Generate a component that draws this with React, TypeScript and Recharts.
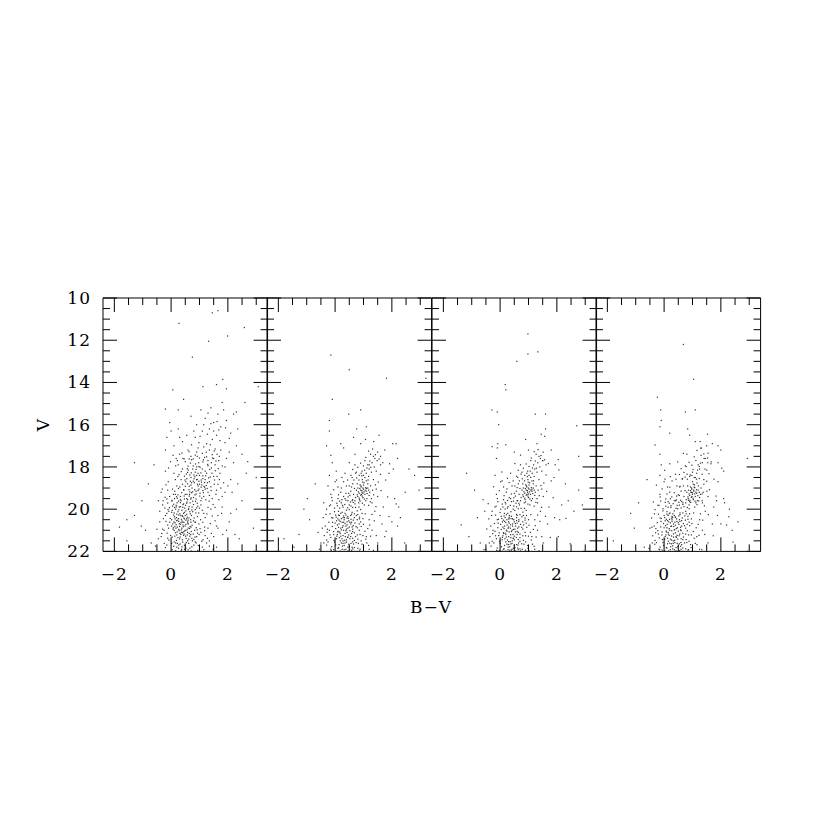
import React from "react";
import { ScatterChart, Scatter, XAxis, YAxis } from "recharts";

// ---------- data (B-V, V) ----------
const panel1: number[][] = [
  [0.12,19.5],[0.35,19.6],[0.58,19.55],[0.21,19.7],[0.44,19.75],[0.67,19.7],[0.05,19.85],[0.29,19.9],[0.51,19.82],[0.74,19.9],
  [0.16,20.0],[0.38,20.05],[0.62,19.98],[0.85,20.02],[-0.08,20.1],[0.24,20.12],[0.47,20.15],[0.31,20.22],[0.55,20.25],[0.09,20.28],
  [0.72,20.3],[0.41,20.35],[0.19,20.4],[0.63,20.42],[0.36,20.48],[0.02,20.5],[0.52,20.52],[0.27,20.58],[0.79,20.55],[0.45,20.62],
  [0.14,20.65],[0.6,20.7],[0.33,20.72],[-0.12,20.75],[0.49,20.8],[0.22,20.85],[0.7,20.85],[0.38,20.9],[0.07,20.95],[0.56,20.98],
  [0.28,21.02],[0.83,21.0],[0.43,21.08],[0.15,21.12],[0.64,21.15],[0.34,21.2],[0.51,21.28],[-0.02,21.25],[0.24,21.35],[0.73,21.38],
  [0.4,21.45],[0.58,21.5],[0.11,21.55],[0.88,21.6],[0.32,21.65],[0.47,21.72],[0.2,21.8],[0.66,21.85],[0.37,21.9],[0.04,21.92],
  [0.26,19.62],[0.48,19.95],[0.11,20.18],[0.66,20.12],[0.39,20.3],[0.26,20.45],[0.58,20.6],[0.42,20.75],[0.17,20.9],[0.5,21.0],
  [0.31,21.15],[0.69,21.2],[0.19,21.48],[0.54,21.58],[0.93,20.35],[0.98,20.7],[0.9,21.3],[-0.2,20.3],[-0.25,21.0],[-0.15,21.7],
  [1.05,21.1],[1.1,21.8],[0.8,21.7],
  [0.95,18.9],[0.82,18.75],[1.08,18.85],[0.74,19.0],[1.2,19.05],[0.88,19.15],[1.02,19.25],[0.65,19.3],[1.15,19.4],[0.79,19.45],
  [1.3,19.2],[0.92,18.6],[1.12,18.55],[0.7,18.5],[1.35,18.7],[0.58,18.8],[1.0,18.4],[1.25,18.3],[0.85,18.25],[0.6,18.15],
  [1.1,18.1],[1.42,18.05],[0.78,17.95],[0.97,17.8],[1.3,17.7],[0.5,17.75],[1.18,17.55],[0.7,17.5],[1.55,17.9],[1.5,18.45],
  [0.45,19.1],[0.55,19.5],[1.45,19.5],[1.6,19.1],[1.05,19.6],[0.35,18.6],[0.4,18.1],[0.25,17.9],[1.7,18.6],[1.62,17.4],
  [0.9,17.3],[1.35,17.2],[0.2,18.9],[0.15,19.3],[1.8,19.4],[0.98,19.05],[0.84,19.32],[1.07,18.72],[1.24,18.88],[0.68,18.68],
  [0.9,18.4],[1.2,18.6],
  [0.3,17.4],[0.1,18.3],[-0.1,18.7],[-0.05,19.4],[-0.3,19.8],[1.9,18.0],[1.75,17.2],[2.0,18.9],[1.65,20.3],[1.4,20.0],
  [1.2,20.4],[1.3,20.9],[1.5,21.3],[1.25,21.6],[1.6,21.8],[-0.4,20.6],[-0.45,21.4],[-0.35,19.2],[1.15,20.2],[1.05,19.8],
  [0.95,17.1],[1.25,16.9],[1.45,16.7],[0.85,16.6],[1.6,16.5],[1.1,16.3],[1.35,16.2],[1.75,16.1],[0.9,16.0],[1.5,15.9],
  [1.95,15.8],[1.2,15.7],[2.1,16.4],[1.65,15.5],[1.85,15.3],[2.2,15.5],[0.4,16.8],[0.1,17.0],[-0.15,16.6],[0.25,16.2],
  [-0.05,15.9],[0.6,17.2],[2.3,17.0],[2.05,17.3],[0.7,15.6],[1.4,15.2],[1.8,14.95],[2.6,14.95],[2.3,15.4],[-0.2,15.26],
  [0.25,15.3],[0.44,14.8],[0.06,14.35],[1.12,14.2],[1.6,14.1],[1.95,14.3],[3.07,14.2],[1.82,13.85],[0.75,12.8],[1.32,12.05],
  [1.99,11.8],[2.58,11.4],[0.28,11.2],[1.45,10.7],[1.65,10.6],
  [-1.29,17.8],[-0.8,18.8],[-1.03,19.6],[-1.29,20.3],[-1.82,20.85],[-1.56,20.5],[-1.05,20.8],[-1.56,21.5],[-0.7,21.6],[2.7,17.75],
  [3.0,18.5],[2.65,18.3],[2.3,20.0],[2.15,19.2],[1.8,19.9],[2.05,20.6],[1.65,20.9],[2.5,19.6],[2.9,20.9],[2.4,21.4],
  [-0.6,17.9],[-0.9,21.0],
];
const panel1b: number[][] = [
  [-0.21,19.44],[0.03,19.58],[0.19,19.41],[0.47,19.52],[0.71,19.47],[0.86,19.63],[-0.12,19.71],[0.09,19.77],[0.33,19.69],[0.56,19.66],
  [0.79,19.78],[0.94,19.86],[-0.06,19.93],[0.18,19.89],[0.41,19.91],[0.63,19.88],[0.27,20.03],[0.52,20.08],[0.76,20.12],[0.02,20.15],
  [0.2,20.24],[0.44,20.2],[0.68,20.22],[0.87,20.18],[-0.15,20.2],[0.12,20.36],[0.34,20.31],[0.57,20.38],[0.81,20.42],[-0.03,20.44],
  [0.23,20.52],[0.47,20.46],[0.69,20.5],[0.38,20.56],[0.1,20.61],[0.59,20.66],[0.84,20.62],[-0.18,20.58],[0.29,20.69],[0.52,20.72],
  [0.74,20.76],[0.02,20.8],[0.18,20.74],[0.43,20.83],[0.65,20.91],[0.89,20.88],[-0.09,20.9],[0.27,20.96],[0.48,21.04],[0.71,21.06],
  [0.11,21.01],[0.36,21.1],[0.58,21.1],[0.93,21.14],[-0.14,21.14],[0.2,21.22],[0.44,21.24],[0.66,21.28],[0.04,21.32],[0.3,21.41],
  [0.53,21.38],[0.8,21.44],[-0.08,21.47],[0.16,21.6],[0.41,21.56],[0.62,21.62],[0.85,21.55],[0.27,21.7],[0.52,21.84],[0.09,21.76],
  [0.73,21.78],[-0.2,21.82],[0.36,21.97],[0.6,21.93],[0.16,21.97],[0.94,21.95],[-0.3,20.95],[-0.35,21.3],[-0.28,19.6],[1.0,19.95],
  [1.04,20.5],[1.12,21.45],[0.99,21.2],[0.46,19.38],[0.24,19.32],[0.64,19.38],[0.3,20.82],[0.55,20.45],[0.35,20.64],[0.46,21.18],
  [0.14,20.46],[0.61,20.02],[0.06,20.7],[0.75,21.5],[0.21,21.08],[0.5,21.65],[0.38,21.78],
  [0.88,19.52],[1.01,19.38],[1.14,19.22],[0.76,19.18],[0.63,19.08],[1.27,19.02],[1.4,18.94],[0.93,18.82],[1.18,18.74],[0.7,18.86],
  [0.52,18.7],[0.81,18.56],[1.06,18.62],[1.32,18.52],[1.53,18.62],[0.66,18.38],[0.95,18.3],[1.2,18.2],[1.44,18.3],[0.47,18.44],
  [0.76,18.1],[1.02,18.02],[1.3,17.94],[1.56,18.18],[0.6,17.96],[0.86,17.86],[1.12,17.76],[1.42,17.8],[0.42,17.6],[0.72,17.66],
  [1.0,17.58],[1.25,17.52],[1.5,17.6],[0.85,17.44],[1.1,17.36],[1.45,17.42],[0.55,18.56],[0.33,19.4],[1.65,18.82],[1.58,19.3],
  [1.35,19.35],[1.22,19.55],[0.95,19.12],[0.72,19.22],[1.06,18.96],[0.84,18.46],[1.12,18.42],[0.58,18.26],[1.36,18.12],[0.9,18.0],
  [0.68,17.82],[1.18,18.96],[0.98,18.68],[1.28,18.75],[0.78,18.68],[0.5,19.3],[0.4,18.82],[0.28,18.36],[1.72,18.3],[1.85,18.75],
  [1.48,19.78],[1.3,19.92],[1.1,20.05],[1.55,20.55],[1.38,20.68],[1.18,20.85],[1.42,21.15],[1.2,21.25],[1.35,21.75],[0.15,18.6],
  [0.05,19.05],[-0.12,19.1],[-0.2,18.2],[0.22,17.7],[1.68,17.7],[1.9,19.2],[2.1,18.6],[1.78,20.2],[1.95,21.0],
  [0.98,16.85],[1.15,17.05],[1.38,16.95],[1.55,17.15],[1.72,16.75],[1.9,16.85],[0.72,16.95],[1.02,16.55],[1.28,16.45],[1.5,16.3],
  [1.68,16.25],[1.92,16.15],[2.05,16.65],[0.8,16.3],[1.15,16.0],[1.4,15.95],[1.62,15.85],[0.55,16.5],[0.3,16.6],[-0.2,17.2],
  [0.0,16.3],[1.3,15.45],[1.05,15.3],[2.35,16.2],[2.5,17.4],
];
const panel1c: number[][] = [
  [-0.31,19.05],[-0.22,19.95],[-0.27,20.45],[-0.33,21.15],[-0.24,21.62],[-0.18,18.85],[-0.09,18.05],[-0.02,17.75],[0.07,17.45],[0.16,17.95],
  [0.24,18.45],[0.31,18.95],[0.13,19.15],[0.03,19.62],[-0.11,20.02],[0.22,19.48],[0.37,19.22],[0.49,18.62],[0.57,18.08],[0.46,17.62],
  [0.63,17.28],[0.78,17.62],[0.88,18.12],[0.71,18.28],[0.64,18.92],[0.83,19.08],[0.76,19.62],[0.92,19.72],[1.08,19.48],[1.16,18.92],
  [1.22,18.42],[1.38,18.48],[1.29,17.88],[1.46,17.58],[1.58,17.72],[1.66,18.08],[1.52,18.82],[1.41,19.12],[1.34,19.62],[1.55,19.92],
  [1.26,20.22],[1.12,20.62],[1.02,20.92],[1.18,21.02],[1.08,21.52],[1.28,21.38],[0.96,21.72],[1.15,21.92],[0.71,21.98],[0.48,21.9],
  [0.26,21.85],[0.02,21.62],[-0.12,21.38],[0.13,21.28],[0.32,21.32],[0.57,21.22],[0.78,21.18],[0.92,20.98],[0.67,20.82],[0.41,20.62],
  [0.19,20.55],[-0.05,20.62],[0.08,20.88],[0.36,20.98],[0.6,20.9],[0.86,20.62],[0.97,20.18],[0.73,20.04],[0.5,20.3],[0.27,20.28],
  [0.04,20.06],[0.18,19.82],[0.42,19.78],[0.69,19.52],[0.56,19.3],[0.33,19.55],[0.08,19.3],[0.26,19.02],[0.5,18.92],[0.72,18.75],
  [0.9,18.6],[1.05,18.28],[0.98,17.98],[1.14,17.66],[0.92,17.5],[0.64,17.62],[0.38,17.34],[0.18,17.6],[1.24,17.3],[1.52,17.24],
  [1.7,17.5],[1.8,17.95],[1.62,18.45],[1.75,19.0],[1.68,19.55],[1.45,20.32],[1.6,20.8],[1.35,21.5],[1.48,21.9],[1.82,21.2],
  [0.44,19.08],[0.66,19.18],[0.88,19.28],[1.0,18.82],[0.8,18.38],[0.54,18.34],[0.36,18.22],[1.12,19.12],[0.9,19.94],[0.6,20.52],
  [0.4,21.12],[0.22,21.62],[0.62,21.42],[0.84,21.32],[0.13,20.82],[0.45,20.42],[0.7,20.62],[0.33,19.88],[0.55,19.72],[0.12,19.92],
  [-0.15,19.52],[-0.4,20.1],[-0.5,20.95],[-0.55,21.75],[-0.45,19.6],[2.2,17.8],[2.35,18.8],[2.1,20.2],[2.25,21.2],[1.95,17.6],
];

const panel2: number[][] = [
  [0.32,20.5],[0.15,20.3],[0.45,20.35],[0.25,20.62],[0.55,20.7],[0.05,20.55],[0.38,20.8],[0.2,20.9],[0.62,20.95],[0.1,21.05],
  [0.42,21.1],[0.28,21.25],[0.72,21.3],[-0.05,21.2],[0.52,21.4],[0.18,21.5],[0.35,21.6],[0.65,21.65],[0.02,21.7],[0.45,21.8],
  [0.25,21.9],[0.8,21.85],[-0.15,21.9],[0.58,21.95],[0.12,20.1],[0.4,20.05],[0.28,19.9],[0.6,20.15],[-0.02,19.95],[0.5,19.8],
  [0.22,19.7],[0.7,19.75],[0.35,20.2],[0.48,20.55],[0.08,20.75],[0.3,21.0],[0.58,21.15],[0.15,21.35],[0.4,21.45],[0.78,20.5],
  [0.85,21.0],[-0.12,20.4],[-0.2,21.0],[0.92,21.5],[-0.25,21.55],[0.68,20.4],[0.33,20.4],[0.22,20.45],[0.42,20.6],[0.14,20.7],
  [0.5,20.85],[0.36,21.3],[0.26,21.75],[0.7,22.0],[0.05,22.0],[1.0,21.8],[0.95,20.2],[-0.3,20.0],[0.62,19.55],[0.1,19.5],
  [0.3,19.4],[-0.1,19.6],[0.45,21.98],[0.18,21.15],[0.55,20.3],[0.25,20.15],[0.4,20.95],[0.62,21.55],[0.05,21.4],[0.85,20.7],
  [0.9,19.1],[0.95,19.2],[1.0,19.05],[0.85,19.25],[1.05,19.3],[0.92,18.95],[1.1,19.15],[0.8,19.4],[0.98,19.45],[1.15,19.0],
  [0.88,18.85],[1.02,18.75],[0.75,19.1],[1.2,19.35],[0.93,19.3],[0.86,19.55],[1.08,19.6],[0.7,19.6],[1.25,18.9],[0.96,18.6],
  [0.78,18.8],[1.12,19.5],[0.83,19.7],[1.03,19.8],[0.65,19.3],
  [1.05,18.5],[1.1,18.3],[0.95,18.2],[1.2,18.1],[1.15,17.9],[1.3,17.8],[1.05,17.7],[1.4,17.6],[1.25,17.4],[1.5,17.3],
  [0.85,18.4],[1.35,18.6],[0.6,18.5],[0.5,18.9],[1.45,18.2],[1.6,17.9],[0.7,17.9],[0.35,18.3],
  [0.2,19.2],[-0.15,19.3],[0.4,18.9],[1.3,19.7],[1.5,19.4],[1.4,20.1],[1.2,20.5],[1.3,21.0],[1.5,21.6],[1.1,21.3],
  [-0.35,20.8],[-0.4,21.6],[0.0,18.7],[-0.2,18.4],[1.7,19.9],[1.65,20.7],[1.2,21.9],[0.55,19.15],[0.1,18.95],
  [-0.15,12.7],[0.5,13.4],[1.81,13.8],[-0.1,14.8],[0.9,15.3],[0.48,15.5],[-0.2,15.8],[-0.2,16.3],[0.76,16.2],[0.65,16.6],
  [1.07,16.7],[1.36,16.8],[2.03,16.9],[2.15,16.9],[-0.15,17.45],[1.2,17.9],[1.6,17.5],[0.3,17.1],[-0.1,17.8],[0.9,16.9],
  [1.75,17.2],[2.2,17.6],[1.1,16.1],[0.2,16.9],[3.2,13.8],
  [2.8,18.4],[2.96,19.1],[2.47,19.2],[2.24,19.9],[2.0,20.6],[2.2,20.8],[1.8,21.05],[-0.98,19.5],[-0.9,20.5],[-1.27,21.2],
  [-1.8,21.4],[-1.45,21.8],[-0.5,21.6],[2.6,18.1],[1.9,18.3],[2.1,19.5],[-0.7,18.8],[-1.1,20.0],[-0.6,21.1],
];
const panel2b: number[][] = [
  [-0.18,20.22],[0.02,20.28],[0.2,20.2],[0.38,20.28],[0.58,20.24],[0.75,20.3],[-0.08,20.42],[0.1,20.46],[0.28,20.4],[0.46,20.44],
  [0.64,20.52],[0.86,20.46],[-0.22,20.62],[0.0,20.66],[0.18,20.58],[0.35,20.68],[0.52,20.62],[0.7,20.66],[0.9,20.6],[-0.1,20.82],
  [0.12,20.86],[0.28,20.78],[0.45,20.9],[0.6,20.84],[0.78,20.88],[-0.28,21.1],[-0.05,21.06],[0.16,21.08],[0.35,21.15],[0.52,21.02],
  [0.68,21.12],[0.88,21.2],[-0.15,21.34],[0.06,21.28],[0.24,21.4],[0.45,21.32],[0.62,21.38],[0.8,21.42],[-0.3,21.46],[-0.02,21.56],
  [0.22,21.6],[0.4,21.56],[0.56,21.62],[0.74,21.58],[0.95,21.66],[-0.12,21.78],[0.12,21.82],[0.32,21.72],[0.5,21.76],[0.68,21.82],
  [0.88,21.9],[0.18,21.98],[0.38,21.9],[0.62,21.88],[-0.05,21.92],[0.3,20.32],[0.42,20.74],[0.22,20.98],[0.34,21.48],[0.14,20.52],
  [0.56,20.48],[0.08,21.2],[0.48,21.22],[0.28,21.62],[0.64,20.78],[0.04,20.38],[0.26,19.82],[0.44,19.94],[0.08,19.84],[0.62,19.92],
  [0.16,19.62],[0.38,19.58],[0.78,20.08],[-0.16,19.8],[0.54,19.66],[0.84,19.9],[0.98,20.45],[1.05,21.05],[1.12,21.6],[1.0,22.0],
  [-0.38,21.25],[-0.42,20.4],
  [0.87,19.02],[0.94,19.12],[1.02,19.18],[0.9,19.34],[0.98,19.0],[1.06,19.1],[0.82,19.18],[1.13,19.26],[0.96,19.38],[0.78,19.32],
  [1.18,19.1],[0.91,18.9],[1.0,18.86],[1.08,18.98],[0.85,19.48],[1.03,19.52],[0.72,19.45],[1.22,19.2],[1.15,18.8],[0.8,19.0],
  [1.32,19.1],[0.68,19.02],[0.97,18.72],[1.1,18.66],[1.0,18.4],[1.18,18.45],[0.92,18.3],[1.28,18.25],[1.12,18.05],[1.38,18.0],
  [1.22,17.72],[1.48,17.7],[1.35,17.5],[0.75,18.25],[0.62,18.8],[1.45,19.05],[1.28,19.5],[0.6,19.6],[0.48,19.25],[0.35,19.5],
];
const panel2c: number[][] = [
  [-0.32,20.25],[-0.27,20.95],[-0.3,21.7],[-0.2,19.85],[-0.12,19.45],[-0.05,19.08],[0.05,18.62],[0.12,19.32],[0.22,19.0],[0.3,18.7],
  [0.38,19.25],[0.45,19.6],[0.52,19.35],[0.58,18.95],[0.66,18.62],[0.72,18.3],[0.62,18.12],[0.8,18.02],[0.9,17.82],[1.0,17.95],
  [1.08,17.55],[1.18,17.25],[1.32,17.15],[1.42,17.42],[1.55,17.62],[1.68,17.8],[1.6,18.35],[1.52,18.72],[1.42,18.85],[1.36,19.32],
  [1.44,19.88],[1.3,20.25],[1.22,20.75],[1.38,20.55],[1.15,20.92],[1.25,21.28],[1.08,21.42],[1.18,21.72],[1.35,21.95],[0.98,21.25],
  [0.92,20.82],[0.96,19.72],[0.9,20.02],[0.8,20.26],[0.74,20.82],[0.82,21.62],[0.68,21.48],[0.55,21.3],[0.48,21.66],[0.32,21.92],
  [0.14,21.68],[-0.04,21.48],[-0.18,21.22],[-0.09,20.62],[0.02,20.92],[0.2,21.28],[0.38,21.02],[0.58,20.62],[0.68,20.22],[0.5,20.02],
  [0.3,20.62],[0.12,20.28],[-0.02,20.12],[0.16,19.95],[0.34,19.78],[0.56,19.85],[0.72,19.92],[0.64,19.68],[0.46,19.42],[0.24,19.55],
  [0.06,19.72],[0.88,19.62],[0.98,19.25],[1.1,19.02],[1.24,19.65],[1.18,19.82],[1.06,20.22],[1.0,20.72],[0.86,20.38],[0.42,20.42],
  [0.26,20.86],[0.1,21.08],[0.62,21.06],[0.78,21.22],[0.44,21.34],[0.28,21.5],[0.6,21.8],[0.86,21.98],[0.1,21.86],[-0.14,21.96],
  [1.62,19.12],[1.78,18.62],[1.85,19.42],[1.92,17.85],[2.05,18.1],[1.58,20.3],[1.75,21.3],[1.9,20.35],[2.15,19.75],[1.45,21.25],
  [0.84,18.62],[0.94,18.42],[1.04,18.16],[1.16,18.62],[1.26,18.02],[0.76,18.52],[0.56,18.4],[0.44,18.62],[0.24,18.5],[0.04,18.2],
  [-0.25,18.9],[-0.4,19.7],[-0.45,20.9],[-0.55,21.9],[1.55,16.5],[0.7,17.4],[0.5,17.8],[-0.3,17.0],[2.3,20.4],[2.45,21.6],
];

const panel3: number[][] = [
  [0.3,20.6],[0.18,20.4],[0.42,20.45],[0.25,20.75],[0.55,20.8],[0.08,20.6],[0.36,20.9],[0.22,21.0],[0.6,21.05],[0.12,21.15],
  [0.45,21.2],[0.3,21.3],[0.7,21.35],[-0.05,21.25],[0.5,21.45],[0.2,21.55],[0.38,21.65],[0.63,21.7],[0.05,21.78],[0.47,21.85],
  [0.28,21.92],[0.78,21.9],[-0.12,21.95],[0.55,21.98],[0.15,20.2],[0.38,20.12],[0.26,19.95],[0.58,20.25],[0.02,20.0],[0.48,19.85],
  [0.2,19.75],[0.68,19.8],[0.33,20.3],[0.5,20.6],[0.1,20.85],[0.32,21.08],[0.6,21.2],[0.17,21.4],[0.43,21.5],[0.8,20.6],
  [0.88,21.1],[-0.1,20.5],[-0.18,21.05],[0.9,21.55],[-0.22,21.6],[0.66,20.5],[0.35,20.45],[0.24,20.5],[0.44,20.7],[0.16,20.8],
  [0.52,20.95],[0.38,21.35],[0.28,21.8],[0.72,21.98],[0.08,21.99],[0.98,21.85],[0.93,20.3],[-0.28,20.1],[0.6,19.6],[0.12,19.55],
  [0.32,19.45],[-0.08,19.65],[0.42,21.9],[0.2,21.2],[0.58,20.4],[0.27,20.2],[0.42,21.0],[0.65,21.6],[0.07,21.45],[0.83,20.75],
  [0.92,19.1],[0.97,19.2],[1.02,19.05],[0.87,19.25],[1.07,19.3],[0.94,18.95],[1.12,19.15],[0.82,19.4],[1.0,19.45],[1.17,19.0],
  [0.9,18.85],[1.04,18.75],[0.77,19.1],[1.22,19.35],[0.95,19.3],[0.88,19.55],[1.1,19.6],[0.72,19.6],[1.27,18.9],[0.98,18.6],
  [0.8,18.8],[1.14,19.5],[0.85,19.7],[1.05,19.8],[0.67,19.3],
  [1.08,18.5],[1.13,18.3],[0.97,18.2],[1.22,18.1],[1.18,17.9],[1.33,17.8],[1.08,17.7],[1.42,17.6],[1.27,17.4],[1.52,17.3],
  [0.87,18.4],[1.37,18.6],[0.62,18.5],[0.52,18.9],[1.47,18.2],[1.62,17.9],[0.72,17.9],[0.37,18.3],
  [0.22,19.2],[-0.13,19.3],[0.42,18.9],[1.32,19.7],[1.52,19.4],[1.42,20.1],[1.22,20.5],[1.32,21.0],[1.52,21.6],[1.12,21.3],
  [-0.33,20.8],[-0.38,21.6],[0.02,18.7],[-0.18,18.4],[1.72,19.9],[1.67,20.7],[1.22,21.9],[0.57,19.15],[0.12,18.95],
  [0.98,11.7],[0.98,12.65],[1.33,12.55],[0.59,13.0],[0.18,14.1],[0.2,14.35],[-0.29,15.3],[-0.1,15.4],[-0.05,16.0],[1.24,15.5],
  [1.6,15.5],[1.6,16.2],[1.45,16.45],[2.7,16.05],[-0.08,16.9],[0.9,16.7],[1.3,16.9],[1.8,17.2],[1.5,17.7],[-0.13,17.6],
  [2.05,17.65],[0.5,17.3],[1.0,17.2],[-0.1,17.1],[0.2,16.95],
  [2.77,17.5],[2.77,19.1],[2.9,19.8],[2.3,18.8],[2.6,20.1],[2.1,20.5],[2.05,21.3],[-1.18,18.3],[-0.6,19.55],[-0.54,20.1],
  [-0.8,20.4],[-1.37,20.75],[-1.1,21.3],[-0.7,21.6],[-0.5,21.9],[1.9,18.5],[2.4,19.6],[-0.9,19.1],
];
const panel3b: number[][] = [
  [-0.16,20.28],[0.04,20.34],[0.22,20.26],[0.4,20.34],[0.6,20.3],[0.77,20.36],[-0.06,20.48],[0.12,20.52],[0.3,20.46],[0.48,20.5],
  [0.66,20.58],[0.88,20.52],[-0.2,20.68],[0.02,20.72],[0.2,20.64],[0.37,20.74],[0.54,20.68],[0.72,20.72],[0.92,20.66],[-0.08,20.88],
  [0.14,20.92],[0.3,20.84],[0.47,20.96],[0.62,20.9],[0.8,20.94],[-0.26,21.16],[-0.03,21.12],[0.18,21.14],[0.37,21.21],[0.54,21.08],
  [0.7,21.18],[0.9,21.26],[-0.13,21.4],[0.08,21.34],[0.26,21.46],[0.47,21.38],[0.64,21.44],[0.82,21.48],[-0.28,21.52],[0.0,21.62],
  [0.24,21.66],[0.42,21.62],[0.58,21.68],[0.76,21.64],[0.97,21.72],[-0.1,21.84],[0.14,21.88],[0.34,21.78],[0.52,21.82],[0.7,21.88],
  [0.9,21.94],[0.2,21.99],[0.4,21.94],[0.64,21.92],[-0.03,21.96],[0.32,20.38],[0.44,20.8],[0.24,21.04],[0.36,21.54],[0.16,20.58],
  [0.58,20.54],[0.1,21.26],[0.5,21.28],[0.3,21.68],[0.66,20.84],[0.06,20.44],[0.28,19.88],[0.46,20.0],[0.1,19.9],[0.64,19.98],
  [0.18,19.68],[0.4,19.64],[0.8,20.14],[-0.14,19.86],[0.56,19.72],[0.86,19.96],[1.0,20.5],[1.07,21.1],[1.14,21.66],[1.02,21.98],
  [-0.36,21.3],[-0.4,20.46],
  [0.89,19.02],[0.96,19.12],[1.04,19.18],[0.92,19.34],[1.0,19.0],[1.08,19.1],[0.84,19.18],[1.15,19.26],[0.98,19.38],[0.8,19.32],
  [1.2,19.1],[0.93,18.9],[1.02,18.86],[1.1,18.98],[0.87,19.48],[1.05,19.52],[0.74,19.45],[1.24,19.2],[1.17,18.8],[0.82,19.0],
  [1.34,19.1],[0.7,19.02],[0.99,18.72],[1.12,18.66],[1.02,18.4],[1.2,18.45],[0.94,18.3],[1.3,18.25],[1.14,18.05],[1.4,18.0],
  [1.24,17.72],[1.5,17.7],[1.37,17.5],[0.77,18.25],[0.64,18.8],[1.47,19.05],[1.3,19.5],[0.62,19.6],[0.5,19.25],[0.37,19.5],
];
const panel3c: number[][] = [
  [-0.3,20.3],[-0.25,21.0],[-0.32,21.75],[-0.18,19.9],[-0.1,19.5],[-0.03,19.12],[0.07,18.66],[0.14,19.36],[0.24,19.04],[0.32,18.74],
  [0.4,19.28],[0.47,19.62],[0.54,19.38],[0.6,18.98],[0.68,18.66],[0.74,18.34],[0.64,18.16],[0.82,18.06],[0.92,17.86],[1.02,17.98],
  [1.1,17.58],[1.2,17.28],[1.34,17.18],[1.44,17.46],[1.57,17.66],[1.7,17.84],[1.62,18.38],[1.54,18.76],[1.44,18.88],[1.38,19.36],
  [1.46,19.92],[1.32,20.28],[1.24,20.78],[1.4,20.58],[1.17,20.96],[1.27,21.32],[1.1,21.46],[1.2,21.76],[1.37,21.97],[1.0,21.28],
  [0.94,20.86],[0.98,19.76],[0.92,20.06],[0.82,20.3],[0.76,20.86],[0.84,21.66],[0.7,21.52],[0.57,21.34],[0.5,21.7],[0.34,21.95],
  [0.16,21.72],[-0.02,21.52],[-0.16,21.26],[-0.07,20.66],[0.04,20.96],[0.22,21.32],[0.4,21.06],[0.6,20.66],[0.7,20.26],[0.52,20.06],
  [0.32,20.66],[0.14,20.32],[0.0,20.16],[0.18,19.99],[0.36,19.82],[0.58,19.89],[0.74,19.96],[0.66,19.72],[0.48,19.46],[0.26,19.59],
  [0.08,19.76],[0.9,19.66],[1.0,19.28],[1.12,19.06],[1.26,19.68],[1.2,19.86],[1.08,20.26],[1.02,20.76],[0.88,20.42],[0.44,20.46],
  [0.28,20.9],[0.12,21.12],[0.64,21.1],[0.8,21.26],[0.46,21.38],[0.3,21.54],[0.62,21.84],[0.88,21.99],[0.12,21.9],[-0.12,21.98],
  [1.64,19.16],[1.8,18.66],[1.87,19.46],[1.94,17.9],[2.07,18.14],[1.6,20.34],[1.77,21.34],[1.92,20.4],[2.17,19.8],[1.47,21.3],
  [0.86,18.66],[0.96,18.46],[1.06,18.2],[1.18,18.66],[1.28,18.06],[0.78,18.56],[0.58,18.44],[0.46,18.66],[0.26,18.54],[0.06,18.24],
  [-0.23,18.94],[-0.42,19.74],[-0.47,20.94],[-0.57,21.92],[1.57,16.55],[0.72,17.44],[0.52,17.84],[-0.28,17.04],[2.32,20.44],[2.47,21.64],
];

const panel4: number[][] = [
  [0.28,20.5],[0.14,20.3],[0.4,20.38],[0.22,20.65],[0.52,20.72],[0.04,20.55],[0.34,20.82],[0.18,20.92],[0.58,20.98],[0.08,21.08],
  [0.4,21.12],[0.26,21.27],[0.68,21.32],[-0.08,21.22],[0.48,21.42],[0.15,21.52],[0.32,21.62],[0.62,21.68],[-0.02,21.72],[0.42,21.82],
  [0.22,21.92],[0.76,21.88],[-0.18,21.9],[0.55,21.96],[0.1,20.12],[0.36,20.08],[0.24,19.92],[0.56,20.18],[-0.04,19.98],[0.46,19.82],
  [0.18,19.72],[0.66,19.78],[0.31,20.22],[0.45,20.58],[0.05,20.78],[0.27,21.02],[0.55,21.18],[0.12,21.38],[0.37,21.48],[0.75,20.52],
  [0.82,21.02],[-0.14,20.42],[-0.22,21.02],[0.88,21.52],[-0.27,21.58],[0.64,20.42],[0.3,20.4],[0.19,20.48],[0.38,20.62],[0.11,20.72],
  [0.47,20.88],[0.33,21.32],[0.23,21.78],[0.66,21.99],[0.02,21.98],[0.95,21.82],[0.9,20.22],[-0.32,20.02],[0.58,19.58],[0.06,19.52],
  [0.27,19.42],[-0.12,19.62],[0.42,21.97],[0.15,21.18],[0.52,20.32],[0.21,20.18],[0.37,20.97],[0.59,21.58],[0.02,21.42],[0.81,20.72],
  [0.95,19.2],[1.0,19.3],[1.05,19.15],[0.9,19.35],[1.1,19.4],[0.97,19.05],[1.15,19.25],[0.85,19.5],[1.03,19.55],[1.2,19.1],
  [0.93,18.95],[1.07,18.85],[0.8,19.2],[1.25,19.45],[0.98,19.4],[0.9,19.65],[1.12,19.7],[0.76,19.7],[1.3,19.0],[1.0,18.7],
  [0.83,18.9],[1.17,19.6],[0.88,19.8],[1.08,19.9],[0.7,19.4],
  [1.1,18.5],[1.15,18.3],[1.0,18.25],[1.25,18.1],[1.2,17.9],[1.35,17.8],[1.12,17.7],[1.45,17.6],[1.3,17.45],[1.55,17.35],
  [0.9,18.45],[1.4,18.6],[0.65,18.55],[0.55,18.95],[1.5,18.15],[1.65,17.85],[0.75,17.95],[0.4,18.35],
  [0.2,19.2],[-0.15,19.3],[0.45,18.9],[1.35,19.7],[1.55,19.4],[1.45,20.1],[1.25,20.5],[1.35,21.0],[1.55,21.6],[1.15,21.3],
  [-0.35,20.8],[-0.42,21.6],[0.0,18.7],[-0.15,18.4],[1.75,19.9],[1.7,20.7],[1.25,21.9],[0.6,19.15],[0.12,18.95],
  [0.68,12.2],[1.04,13.85],[-0.24,14.7],[-0.12,15.3],[-0.1,15.8],[-0.15,16.1],[0.75,15.4],[1.1,15.3],[0.83,16.2],[0.2,16.4],
  [1.1,16.8],[1.27,16.8],[1.9,17.0],[2.0,17.2],[-0.15,17.4],[1.5,17.0],[0.8,17.4],[0.2,17.85],[1.3,17.1],[-0.1,17.9],
  [1.7,16.9],[2.1,18.2],[0.9,16.5],
  [2.93,17.6],[1.9,18.7],[2.1,19.5],[2.3,20.0],[2.0,20.7],[2.2,20.75],[1.85,19.6],[-0.9,19.7],[-1.18,20.2],[-1.05,20.9],
  [-1.79,21.5],[-0.7,21.8],[2.6,20.6],[-0.6,18.6],[-0.5,20.9],[2.4,21.0],
];
const panel4b: number[][] = [
  [-0.2,20.24],[0.0,20.3],[0.18,20.22],[0.36,20.3],[0.56,20.26],[0.73,20.32],[-0.1,20.44],[0.08,20.48],[0.26,20.42],[0.44,20.46],
  [0.62,20.54],[0.84,20.48],[-0.24,20.64],[-0.02,20.68],[0.16,20.6],[0.33,20.7],[0.5,20.64],[0.68,20.68],[0.88,20.62],[-0.12,20.84],
  [0.1,20.88],[0.26,20.8],[0.43,20.92],[0.58,20.86],[0.76,20.9],[-0.3,21.12],[-0.07,21.08],[0.14,21.1],[0.33,21.17],[0.5,21.04],
  [0.66,21.14],[0.86,21.22],[-0.17,21.36],[0.04,21.3],[0.22,21.42],[0.43,21.34],[0.6,21.4],[0.78,21.44],[-0.32,21.48],[-0.04,21.58],
  [0.2,21.62],[0.38,21.58],[0.54,21.64],[0.72,21.6],[0.93,21.68],[-0.14,21.8],[0.1,21.84],[0.3,21.74],[0.48,21.78],[0.66,21.84],
  [0.86,21.92],[0.16,21.98],[0.36,21.92],[0.6,21.9],[-0.07,21.94],[0.28,20.34],[0.4,20.76],[0.2,21.0],[0.32,21.5],[0.12,20.54],
  [0.54,20.5],[0.06,21.22],[0.46,21.24],[0.26,21.64],[0.62,20.8],[0.02,20.4],[0.24,19.84],[0.42,19.96],[0.06,19.86],[0.6,19.94],
  [0.14,19.64],[0.36,19.6],[0.76,20.1],[-0.18,19.82],[0.52,19.68],[0.82,19.92],[0.96,20.46],[1.03,21.06],[1.1,21.62],[0.98,21.99],
  [-0.4,21.26],[-0.44,20.42],
  [0.93,19.12],[1.0,19.22],[1.08,19.28],[0.96,19.44],[1.04,19.1],[1.12,19.2],[0.88,19.28],[1.19,19.36],[1.02,19.48],[0.84,19.42],
  [1.24,19.2],[0.97,19.0],[1.06,18.96],[1.14,19.08],[0.91,19.58],[1.09,19.62],[0.78,19.55],[1.28,19.3],[1.21,18.9],[0.86,19.1],
  [1.38,19.2],[0.74,19.12],[1.03,18.82],[1.16,18.76],[1.06,18.5],[1.24,18.55],[0.98,18.4],[1.34,18.35],[1.18,18.15],[1.44,18.1],
  [1.28,17.82],[1.54,17.8],[1.41,17.6],[0.81,18.35],[0.68,18.9],[1.51,19.15],[1.34,19.6],[0.66,19.7],[0.54,19.35],[0.41,19.6],
];
const panel4c: number[][] = [
  [-0.34,20.22],[-0.29,20.92],[-0.33,21.66],[-0.22,19.82],[-0.14,19.42],[-0.07,19.04],[0.03,18.58],[0.1,19.28],[0.2,18.96],[0.28,18.66],
  [0.36,19.22],[0.43,19.56],[0.5,19.32],[0.56,18.92],[0.64,18.58],[0.7,18.26],[0.6,18.08],[0.78,17.98],[0.88,17.78],[0.98,17.92],
  [1.06,17.52],[1.16,17.22],[1.3,17.12],[1.4,17.38],[1.53,17.58],[1.66,17.76],[1.58,18.32],[1.5,18.68],[1.4,18.82],[1.34,19.28],
  [1.42,19.84],[1.28,20.22],[1.2,20.72],[1.36,20.52],[1.13,20.88],[1.23,21.24],[1.06,21.38],[1.16,21.68],[1.33,21.92],[0.96,21.22],
  [0.9,20.78],[0.94,19.68],[0.88,19.98],[0.78,20.22],[0.72,20.78],[0.8,21.58],[0.66,21.44],[0.53,21.26],[0.46,21.62],[0.3,21.88],
  [0.12,21.64],[-0.06,21.44],[-0.2,21.18],[-0.11,20.58],[0.0,20.88],[0.18,21.24],[0.36,20.98],[0.56,20.58],[0.66,20.18],[0.48,19.98],
  [0.28,20.58],[0.1,20.24],[-0.04,20.08],[0.14,19.91],[0.32,19.74],[0.54,19.81],[0.7,19.88],[0.62,19.64],[0.44,19.38],[0.22,19.51],
  [0.04,19.68],[0.86,19.58],[0.96,19.21],[1.08,18.98],[1.22,19.61],[1.16,19.78],[1.04,20.18],[0.98,20.68],[0.84,20.34],[0.4,20.38],
  [0.24,20.82],[0.08,21.04],[0.6,21.02],[0.76,21.18],[0.42,21.3],[0.26,21.46],[0.58,21.76],[0.84,21.94],[0.08,21.82],[-0.16,21.92],
  [1.6,19.08],[1.76,18.58],[1.83,19.38],[1.9,17.8],[2.03,18.06],[1.56,20.26],[1.73,21.26],[1.88,20.3],[2.13,19.7],[1.43,21.2],
  [0.82,18.58],[0.92,18.38],[1.02,18.12],[1.14,18.58],[1.24,17.98],[0.74,18.48],[0.54,18.36],[0.42,18.58],[0.22,18.46],[0.02,18.16],
  [-0.27,18.86],[-0.38,19.66],[-0.43,20.86],[-0.53,21.86],[1.53,16.45],[0.68,17.36],[0.48,17.76],[-0.32,16.96],[2.28,20.36],[2.43,21.56],
];

const panels = [
  [...panel1, ...panel1b, ...panel1c],
  [...panel2, ...panel2b, ...panel2c],
  [...panel3, ...panel3b, ...panel3c],
  [...panel4, ...panel4b, ...panel4c],
];

const xTicks = [-2, -1.5, -1, -0.5, 0, 0.5, 1, 1.5, 2, 2.5, 3];
const xMajor = [-2, 0, 2];
const yTicks = [10, 10.5, 11, 11.5, 12, 12.5, 13, 13.5, 14, 14.5, 15, 15.5, 16, 16.5, 17, 17.5, 18, 18.5, 19, 19.5, 20, 20.5, 21, 21.5, 22];
const yMajor = [10, 12, 14, 16, 18, 20, 22];
const xDomain = [-2.4, 3.4];
const yDomain = [10, 22];
const xTitle = "B\u2212V";
const yTitle = "V";

// ---------- layout ----------
const PW = 164.6;
const PH = 253.4;
const TOP = 298.3;
const LEFTS = [102.5, 267.1, 431.7, 596.3];
const ML = 70, MT = 10, MR = 10, MB = 50;
const MAJ = 14, MIN = 7;
const FONT = "'DejaVu Serif', serif";
const FS = 17;

const fmt = (v: number) => (v < 0 ? "\u2212" + Math.abs(v) : String(v));

const BottomTick = (p: any) => {
  const v = p.payload.value;
  const major = xMajor.includes(v);
  return (
    <g>
      <line x1={p.x} x2={p.x} y1={p.y} y2={p.y - (major ? MAJ : MIN)} stroke="#000" strokeWidth={1} />
      {major && (
        <text x={p.x} y={p.y + 29} textAnchor="middle" fontFamily={FONT} fontSize={FS} letterSpacing={1} fill="#000">
          {fmt(v)}
        </text>
      )}
    </g>
  );
};
const TopTick = (p: any) => {
  const v = p.payload.value;
  const major = xMajor.includes(v);
  return <line x1={p.x} x2={p.x} y1={p.y} y2={p.y + (major ? MAJ : MIN)} stroke="#000" strokeWidth={1} />;
};
const makeLeftTick = (showLabel: boolean) => (p: any) => {
  const v = p.payload.value;
  const major = yMajor.includes(v);
  return (
    <g>
      <line x1={p.x} x2={p.x + (major ? MAJ : MIN)} y1={p.y} y2={p.y} stroke="#000" strokeWidth={1} />
      {showLabel && major && (
        <text x={p.x - 12} y={p.y + 6} textAnchor="end" fontFamily={FONT} fontSize={FS} letterSpacing={1} fill="#000">
          {fmt(v)}
        </text>
      )}
    </g>
  );
};
const RightTick = (p: any) => {
  const v = p.payload.value;
  const major = yMajor.includes(v);
  return <line x1={p.x} x2={p.x - (major ? MAJ : MIN)} y1={p.y} y2={p.y} stroke="#000" strokeWidth={1} />;
};

const Dot = (p: any) => <rect x={p.cx - 0.6} y={p.cy - 0.6} width={1.2} height={1.2} fill="#333" />;

const axisLine = { stroke: "#000", strokeWidth: 1 };

const Panel = ({ idx }: { idx: number }) => {
  const data = panels[idx].map(([x, y]) => ({ x, y }));
  return (
    <div style={{ position: "absolute", left: LEFTS[idx] - ML, top: TOP - MT }}>
      <ScatterChart width={ML + PW + MR} height={MT + PH + MB} margin={{ top: 0, right: 0, bottom: 0, left: 0 }}>
        <XAxis xAxisId="b" dataKey="x" type="number" domain={xDomain} ticks={xTicks} interval={0} orientation="bottom"
          height={MB} tickSize={0} tickMargin={0} tickLine={false} axisLine={axisLine} tick={<BottomTick />} allowDataOverflow />
        <XAxis xAxisId="t" dataKey="x" type="number" domain={xDomain} ticks={xTicks} interval={0} orientation="top"
          height={MT} tickSize={0} tickMargin={0} tickLine={false} axisLine={axisLine} tick={<TopTick />} allowDataOverflow />
        <YAxis yAxisId="l" dataKey="y" type="number" domain={yDomain} ticks={yTicks} interval={0} orientation="left" reversed
          width={ML} tickSize={0} tickMargin={0} tickLine={false} axisLine={axisLine} tick={makeLeftTick(idx === 0)} allowDataOverflow />
        <YAxis yAxisId="r" dataKey="y" type="number" domain={yDomain} ticks={yTicks} interval={0} orientation="right" reversed
          width={MR} tickSize={0} tickMargin={0} tickLine={false} axisLine={axisLine} tick={<RightTick />} allowDataOverflow />
        <Scatter data={data} xAxisId="b" yAxisId="l" shape={<Dot />} isAnimationActive={false} />
        <Scatter data={data} xAxisId="t" yAxisId="r" shape={() => <g />} isAnimationActive={false} />
      </ScatterChart>
    </div>
  );
};

export default function App() {
  return (
    <div style={{ position: "absolute", left: 0, top: 0, width: 830, height: 830, background: "#fff" }}>
      {[0, 1, 2, 3].map((i) => (
        <Panel key={i} idx={i} />
      ))}
      <svg width={830} height={830} style={{ position: "absolute", left: 0, top: 0, pointerEvents: "none" }}>
        <text x={431} y={613} textAnchor="middle" fontFamily={FONT} fontSize={FS} letterSpacing={1} fill="#000">{xTitle}</text>
        <text x={49} y={425} textAnchor="middle" fontFamily={FONT} fontSize={FS} fill="#000" transform="rotate(-90 49 425)">
          {yTitle}
        </text>
      </svg>
    </div>
  );
}
